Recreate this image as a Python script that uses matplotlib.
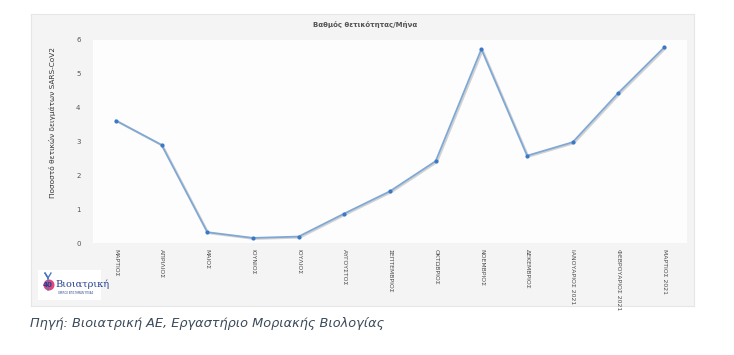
import matplotlib
matplotlib.use("Agg")
import matplotlib.pyplot as plt
from matplotlib.patches import Ellipse

months = ["ΜΑΡΤΙΟΣ", "ΑΠΡΙΛΙΟΣ", "ΜΑΙΟΣ", "ΙΟΥΝΙΟΣ", "ΙΟΥΛΙΟΣ", "ΑΥΓΟΥΣΤΟΣ",
          "ΣΕΠΤΕΜΒΡΙΟΣ", "ΟΚΤΩΒΡΙΟΣ", "ΝΟΕΜΒΡΙΟΣ", "ΔΕΚΕΜΒΡΙΟΣ",
          "ΙΑΝΟΥΑΡΙΟΣ 2021", "ΦΕΒΡΟΥΑΡΙΟΣ 2021", "ΜΑΡΤΙΟΣ 2021"]
positivity = [3.62, 2.90, 0.32, 0.15, 0.19, 0.87, 1.53, 2.42, 5.73, 2.58, 2.98, 4.44, 5.78]
yticks = [0, 1, 2, 3, 4, 5, 6]

title = "Βαθμός θετικότητας/Μήνα"
ylabel = "Ποσοστό θετικών δειγμάτων SARS-CoV2"
source = "Πηγή: Βιοιατρική ΑΕ, Εργαστήριο Μοριακής Βιολογίας"

plt.rcParams['font.family'] = ['DejaVu Sans']
W, H = 734, 355
fig = plt.figure(figsize=(W / 100, H / 100), dpi=100)
fig.patch.set_facecolor("white")

# outer grey panel (background axes)
bg = fig.add_axes([31 / W, 1 - 306 / H, 663 / W, 292 / H], zorder=-5)
bg.set_facecolor("#f4f4f4")
bg.set_xticks([])
bg.set_yticks([])
for s in bg.spines.values():
    s.set_color("#e6e6e6")
    s.set_linewidth(0.8)

ax = fig.add_axes([93 / W, 1 - 243 / H, 594 / W, 203 / H], zorder=1)
ax.set_facecolor("#fdfdfd")
x = list(range(len(months)))
# subtle shadow
ax.plot([v + 0.03 for v in x], [v - 0.03 for v in positivity], color="#d2d2d2",
        linewidth=1.4, zorder=1, solid_capstyle="round")
ax.plot(x, positivity, color="#80a8d4", linewidth=1.3, zorder=2,
        marker="o", markersize=2.0, markerfacecolor="#3a78c6", markeredgecolor="#3a78c6")
ax.set_xlim(-0.5, len(months) - 0.5)
ax.set_ylim(0, 6)
ax.set_yticks(yticks)
ax.set_xticks(x)
ax.set_xticklabels(months, rotation=270, fontsize=4.4, color="#4a4a4a",
                   ha="center", va="top")
ax.tick_params(axis="y", labelsize=5, colors="#555555", length=0, pad=9)
ax.tick_params(axis="x", length=0, pad=4)
for s in ax.spines.values():
    s.set_visible(False)

fig.text(365 / W, 1 - 24 / H, title, fontsize=5, fontweight="bold", color="#555555",
         ha="center", va="center")
fig.text(53 / W, 1 - 122 / H, ylabel, fontsize=5.3, color="#333333", rotation=90,
         ha="center", va="center")

# logo
logo_ax = fig.add_axes([38 / W, 1 - 300 / H, 63 / W, 30 / H], zorder=2)
logo_ax.set_xlim(0, 63)
logo_ax.set_ylim(0, 30)
logo_ax.set_facecolor("white")
logo_ax.set_xticks([])
logo_ax.set_yticks([])
for s in logo_ax.spines.values():
    s.set_visible(False)
logo_ax.plot([10, 10, 7, 10, 13], [10, 22, 27, 22, 27], color="#4a7cc0", linewidth=1.0)
logo_ax.add_patch(Ellipse((11, 15), 11, 11, facecolor="#e0457b", edgecolor="none"))
logo_ax.text(9.5, 15, "40", fontsize=5, color="#2a3f8f", fontweight="bold",
             ha="center", va="center")
logo_ax.text(17, 16, "Βιοιατρική", fontsize=7, color="#23408e",
             family=["DejaVu Serif"], ha="left", va="center")
logo_ax.text(38, 7, "ΟΜΙΛΟΣ ΕΠΙΣΤΗΜΩΝ ΥΓΕΙΑΣ", fontsize=1.8, color="#23408e",
             ha="center", va="center")

fig.text(30 / W, 1 - 323 / H, source, fontsize=9.3, style="italic", color="#3b4a5a",
         ha="left", va="center")

fig.savefig("out.png", dpi=100)
